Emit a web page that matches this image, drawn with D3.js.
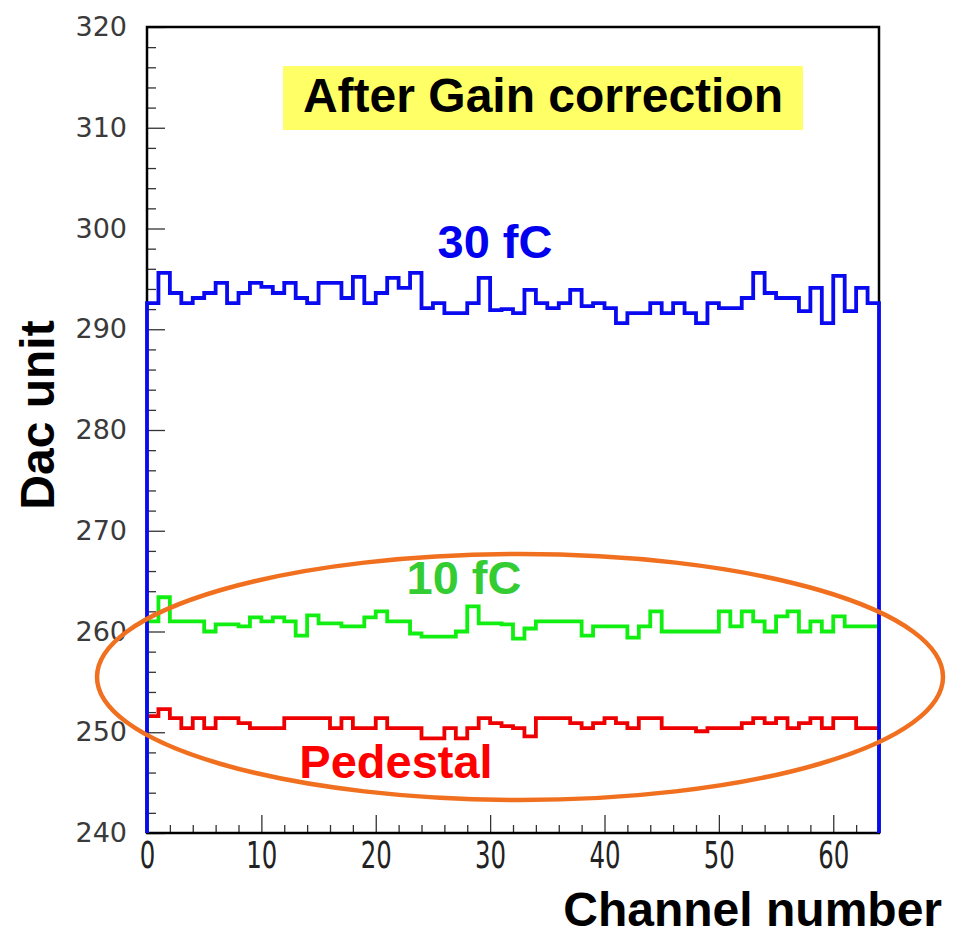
<!DOCTYPE html>
<html>
<head>
<meta charset="utf-8">
<script src="https://cdn.jsdelivr.net/npm/d3@7"></script>
<style>
  body { margin: 0; background: #fff; }
</style>
</head>
<body>
<div id="chart"></div>
<script>
// channel values (Dac units), channels 0..63
var pedestal = [251.6,252.3,251.4,250.4,251.4,250.4,251.4,251.4,250.9,250.4,
  250.4,250.4,251.4,251.4,251.4,251.4,250.4,251.4,250.4,250.4,
  251.4,250.4,250.4,250.4,249.4,249.4,250.4,249.4,250.4,251.4,
  250.9,250.6,250.4,249.6,251.4,251.4,251.4,250.9,250.4,250.9,
  251.4,250.9,250.4,251.4,251.4,250.4,250.4,250.4,250.1,250.4,
  250.4,250.4,250.9,251.4,250.9,251.4,250.4,250.9,251.4,250.4,
  251.4,251.4,250.4,250.4];
var fc10 = [261.0,263.4,261.0,261.0,261.0,260.0,260.7,260.7,260.5,261.4,
  261.0,261.4,261.0,259.6,261.6,260.8,260.8,260.5,260.5,261.4,
  262.0,261.0,261.0,259.8,259.5,259.5,259.5,260.0,262.5,260.8,
  260.8,260.7,259.3,260.3,261.0,261.0,261.0,261.0,259.6,260.5,
  260.5,260.5,259.4,260.5,262.0,260.0,260.0,260.0,260.0,260.0,
  262.0,260.5,262.0,261.0,260.0,261.5,262.0,260.0,261.0,260.0,
  261.5,260.5,260.5,260.5];
var fc30 = [292.6,295.6,293.6,292.6,293.1,293.6,294.6,292.6,293.6,294.6,
  294.2,293.6,294.6,293.1,292.6,294.6,294.6,293.1,295.2,292.6,
  293.6,295.1,294.1,295.6,292.1,292.6,291.6,291.6,292.6,295.1,
  291.9,292.0,291.6,293.9,292.6,292.1,292.6,293.9,292.3,292.6,
  292.1,290.6,291.6,291.6,292.6,291.6,292.6,291.6,290.6,292.6,
  292.1,292.1,293.1,295.6,293.6,293.1,293.1,291.8,294.1,290.6,
  295.3,291.8,294.1,292.6];

var yMajor = [240,250,260,270,280,290,300,310,320];
var xMajor = [0,10,20,30,40,50,60];

var svgW = 962, svgH = 940;
var frame = {left: 147, right: 879, top: 27, bottom: 833};

var svg = d3.select('#chart').append('svg')
    .attr('width', svgW)
    .attr('height', svgH)
    .style('font-family', 'Liberation Sans, Arial, sans-serif');

var x = d3.scaleLinear().domain([0, 64]).range([frame.left, frame.right]);
var y = d3.scaleLinear().domain([240, 320]).range([frame.bottom, frame.top]);

// minor ticks every 2
var yMinor = d3.range(240, 321, 2).filter(v => v % 10 != 0);
var xMinor = d3.range(0, 65, 2).filter(v => v % 10 != 0);

var yAxis = svg.append('g')
    .attr('transform', `translate(${frame.left},0)`)
    .call(d3.axisLeft(y).tickValues(yMajor).tickSize(-18).tickSizeOuter(0).tickPadding(20));
yAxis.selectAll('text')
    .attr('font-family', 'DejaVu Sans, sans-serif')
    .attr('font-size', 27)
    .attr('fill', '#3a3a3a');
svg.append('g')
    .attr('transform', `translate(${frame.left},0)`)
    .call(d3.axisLeft(y).tickValues(yMinor).tickSize(-9).tickSizeOuter(0).tickFormat(''));

var xAxis = svg.append('g')
    .attr('transform', `translate(0,${frame.bottom})`)
    .call(d3.axisBottom(x).tickValues(xMajor).tickSize(-18).tickSizeOuter(0).tickPadding(9));
// tall narrow digits like the original
xAxis.selectAll('text')
    .attr('font-family', 'DejaVu Sans, sans-serif')
    .attr('font-size', 37)
    .attr('fill', '#222')
    .attr('transform', 'scale(0.66,1)');
svg.append('g')
    .attr('transform', `translate(0,${frame.bottom})`)
    .call(d3.axisBottom(x).tickValues(xMinor).tickSize(-8).tickSizeOuter(0).tickFormat(''));

svg.selectAll('.domain').remove();
svg.selectAll('.tick line').attr('stroke', '#333').attr('stroke-width', 1.3);

// frame
svg.append('rect')
    .attr('x', frame.left).attr('y', frame.top)
    .attr('width', frame.right - frame.left).attr('height', frame.bottom - frame.top)
    .attr('fill', 'none')
    .attr('stroke', '#000')
    .attr('stroke-width', 2.5);

// histograms drawn ROOT style, edges down to the axis
var line = d3.line()
    .x(d => x(d[0]))
    .y(d => y(d[1]))
    .curve(d3.curveStepAfter);

function histPts(vals) {
    var pts = [[0, 240]];
    vals.forEach(function (v, i) { pts.push([i, v]); });
    pts.push([64, vals[vals.length - 1]]);
    pts.push([64, 240]);
    return pts;
}

var series = [
    {vals: pedestal, color: '#ee0000'},
    {vals: fc10, color: '#11ee11'},
    {vals: fc30, color: '#0a0af0'}
];
series.forEach(function (s) {
    svg.append('path')
        .attr('d', line(histPts(s.vals)))
        .attr('fill', 'none')
        .attr('stroke', s.color)
        .attr('stroke-width', 3.8)
        .attr('stroke-linejoin', 'miter');
});

// title box
svg.append('rect')
    .attr('x', 283).attr('y', 66)
    .attr('width', 520).attr('height', 64)
    .attr('fill', '#ffff66');
svg.append('text')
    .attr('x', 543).attr('y', 112)
    .attr('text-anchor', 'middle')
    .attr('font-size', 48)
    .attr('font-weight', 'bold')
    .attr('fill', '#000')
    .text('After Gain correction');

// series labels
svg.append('text')
    .attr('x', 495).attr('y', 258)
    .attr('text-anchor', 'middle')
    .attr('font-size', 47).attr('font-weight', 'bold')
    .attr('fill', '#0000ee')
    .text('30 fC');
svg.append('text')
    .attr('x', 464).attr('y', 594)
    .attr('text-anchor', 'middle')
    .attr('font-size', 47).attr('font-weight', 'bold')
    .attr('fill', '#33cc33')
    .text('10 fC');
svg.append('text')
    .attr('x', 396).attr('y', 778)
    .attr('text-anchor', 'middle')
    .attr('font-size', 47).attr('font-weight', 'bold')
    .attr('fill', '#ff0000')
    .text('Pedestal');

// orange ellipse around the low curves
svg.append('ellipse')
    .attr('cx', 520).attr('cy', 677)
    .attr('rx', 423).attr('ry', 123)
    .attr('fill', 'none')
    .attr('stroke', '#f07020')
    .attr('stroke-width', 4.5);

// axis titles
svg.append('text')
    .attr('transform', 'translate(54,415) rotate(-90)')
    .attr('text-anchor', 'middle')
    .attr('font-size', 48).attr('font-weight', 'bold')
    .attr('fill', '#000')
    .text('Dac unit');
svg.append('text')
    .attr('x', 942).attr('y', 926)
    .attr('text-anchor', 'end')
    .attr('font-size', 48).attr('font-weight', 'bold')
    .attr('fill', '#000')
    .text('Channel number');
</script>
</body>
</html>
